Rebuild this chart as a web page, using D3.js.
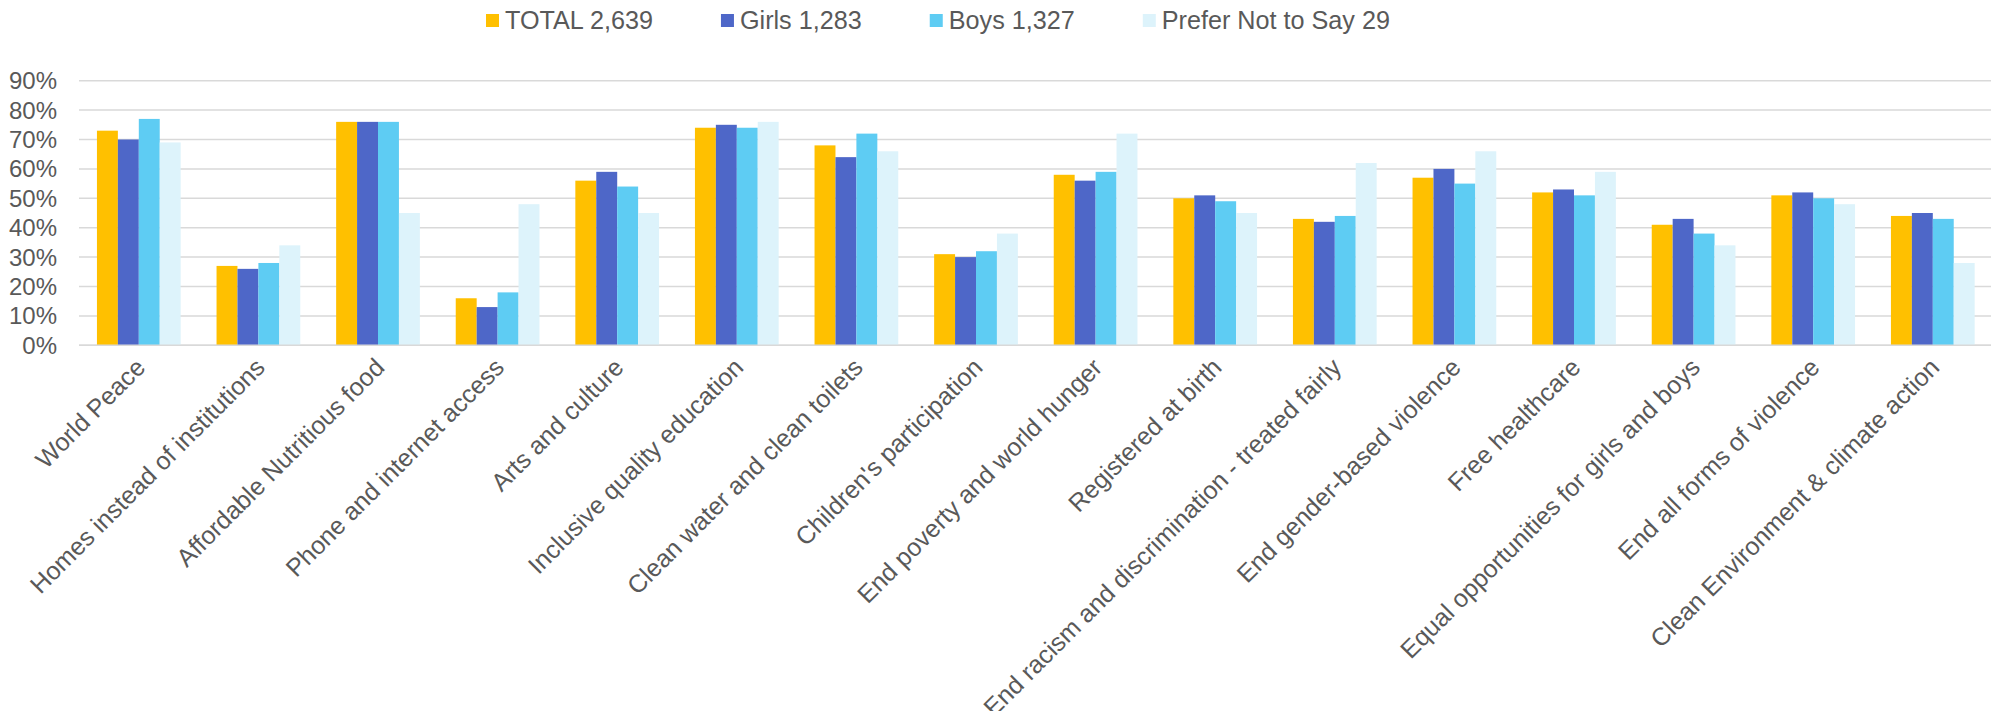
<!DOCTYPE html>
<html>
<head>
<meta charset="utf-8">
<script src="https://cdn.jsdelivr.net/npm/d3@7"></script>
<style>
  body { margin: 0; background: #fff; }
  text { font-family: "Liberation Sans", Arial, sans-serif; fill: #595959; }
</style>
</head>
<body>
<svg id="chart" width="1991" height="711"></svg>
<script>
// categories along the x axis
const categories = [
  "World Peace", "Homes instead of institutions", "Affordable Nutritious food",
  "Phone and internet access", "Arts and culture", "Inclusive quality education",
  "Clean water and clean toilets", "Children's participation", "End poverty and world hunger",
  "Registered at birth", "End racism and discrimination - treated fairly",
  "End gender-based violence", "Free healthcare", "Equal opportunities for girls and boys",
  "End all forms of violence", "Clean Environment & climate action"
];

const seriesNames = ["TOTAL 2,639", "Girls 1,283", "Boys 1,327", "Prefer Not to Say 29"];
const seriesColors = ["#FFC000", "#4E67C8", "#5ECCF3", "#DDF3FB"];

// percentages
const total  = [73, 27, 76, 16, 56, 74, 68, 31, 58, 50, 43, 57, 52, 41, 51, 44];
const girls  = [70, 26, 76, 13, 59, 75, 64, 30, 56, 51, 42, 60, 53, 43, 52, 45];
const boys   = [77, 28, 76, 18, 54, 74, 72, 32, 59, 49, 44, 55, 51, 38, 50, 43];
const prefer = [69, 34, 45, 48, 45, 76, 66, 38, 72, 45, 62, 66, 59, 34, 48, 28];

const yTicks = [0, 10, 20, 30, 40, 50, 60, 70, 80, 90];

const allSeries = [total, girls, boys, prefer];

const svg = d3.select("#chart");

const plotLeft = 79, plotRight = 1992.6, plotTop = 80.7, plotBottom = 345.3;

const x = d3.scaleBand()
  .domain(categories)
  .range([plotLeft, plotRight])
  .paddingInner(0.3)
  .paddingOuter(0.15);

const xSub = d3.scaleBand()
  .domain(d3.range(seriesNames.length))
  .range([0, x.bandwidth()]);

const y = d3.scaleLinear().domain([0, 90]).range([plotBottom, plotTop]);

// gridlines
svg.append("g")
  .selectAll("line")
  .data(yTicks)
  .join("line")
    .attr("x1", plotLeft)
    .attr("x2", plotRight)
    .attr("y1", d => y(d))
    .attr("y2", d => y(d))
    .attr("stroke", "#D9D9D9")
    .attr("stroke-width", 1.5);

// y tick labels
svg.append("g")
  .selectAll("text")
  .data(yTicks)
  .join("text")
    .attr("x", 57)
    .attr("y", d => y(d))
    .attr("dy", "0.35em")
    .attr("text-anchor", "end")
    .style("font-size", "24px")
    .text(d => d + "%");

// bars
const groups = svg.append("g")
  .selectAll("g")
  .data(categories)
  .join("g")
    .attr("transform", d => `translate(${x(d)},0)`);

groups.selectAll("rect")
  .data((d, i) => allSeries.map((s, k) => ({ k: k, v: s[i] })))
  .join("rect")
    .attr("x", d => xSub(d.k))
    .attr("width", xSub.bandwidth())
    .attr("y", d => y(d.v))
    .attr("height", d => y(0) - y(d.v))
    .attr("fill", d => seriesColors[d.k]);

// baseline
svg.append("line")
  .attr("x1", plotLeft).attr("x2", plotRight)
  .attr("y1", plotBottom).attr("y2", plotBottom)
  .attr("stroke", "#D9D9D9")
  .attr("stroke-width", 1.5);

// x labels, rotated
svg.append("g")
  .selectAll("text")
  .data(categories)
  .join("text")
    .attr("transform", d => `translate(${x(d) + x.bandwidth() / 2 + 8},369) rotate(-45)`)
    .attr("text-anchor", "end")
    .style("font-size", "25px")
    .text(d => d);

// legend, laid out one after the other
const legend = svg.append("g");
let lx = 486;
seriesNames.forEach((name, k) => {
  legend.append("rect")
    .attr("x", lx).attr("y", 14)
    .attr("width", 13).attr("height", 13)
    .attr("fill", seriesColors[k]);
  const t = legend.append("text")
    .attr("x", lx + 19)
    .attr("y", 20.5)
    .attr("dy", "0.35em")
    .style("font-size", "25.2px")
    .text(name);
  lx += 19 + t.node().getComputedTextLength() + 68;
});
</script>
</body>
</html>
